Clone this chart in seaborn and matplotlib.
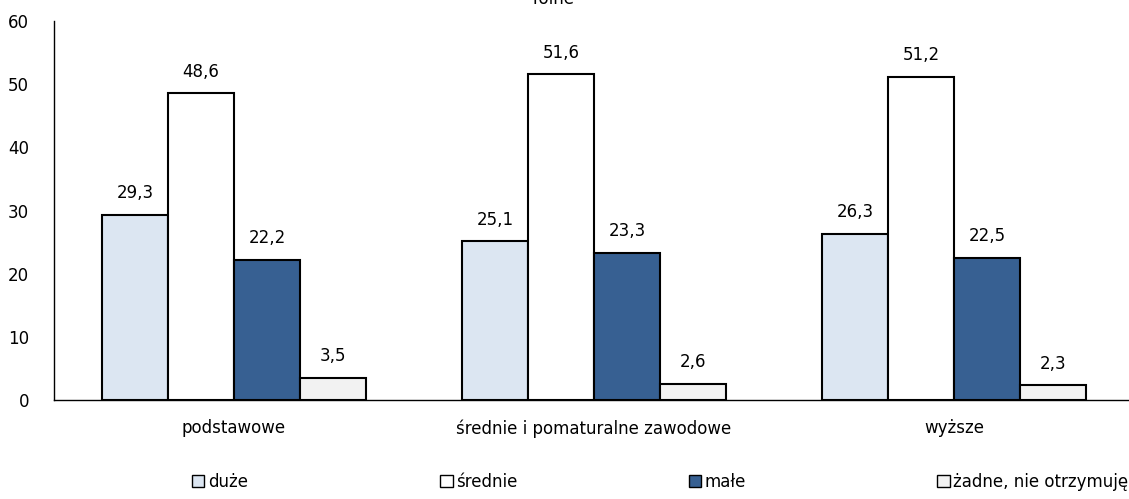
import pandas as pd
import numpy as np
import matplotlib
matplotlib.use("Agg")
import matplotlib.pyplot as plt
import seaborn as sns
from matplotlib.patches import Patch

# dane
kategorie = ["podstawowe", "średnie i pomaturalne zawodowe", "wyższe"]
serie = ["duże", "średnie", "małe", "żadne, nie otrzymuję"]
duze = [29.3, 25.1, 26.3]
srednie = [48.6, 51.6, 51.2]
male = [22.2, 23.3, 22.5]
zadne = [3.5, 2.6, 2.3]

kolory = ["#DCE6F2", "#FFFFFF", "#376092", "#F2F2F2"]

df = pd.DataFrame({
    "kategoria": kategorie * 4,
    "seria": [s for s in serie for _ in kategorie],
    "wartosc": duze + srednie + male + zadne,
})

sns.set_style("white")
plt.rcParams["font.family"] = ["DejaVu Sans"]
plt.rcParams["text.color"] = "black"
plt.rcParams["xtick.color"] = "black"
plt.rcParams["ytick.color"] = "black"

fig = plt.figure(figsize=(11.29, 4.99), dpi=100)
ax = fig.add_axes([54 / 1129, 1 - 400 / 499, 1080 / 1129, 379 / 499])

sns.barplot(data=df, x="kategoria", y="wartosc", hue="seria",
            hue_order=serie, order=kategorie, palette=kolory,
            width=0.733, edgecolor="black", linewidth=1.5,
            legend=False, ax=ax, saturation=1)

for cont in ax.containers:
    ax.bar_label(cont, labels=[f"{v:.1f}".replace(".", ",") for v in cont.datavalues],
                 padding=9, fontsize=12, color="black")

ax.set_ylim(0, 60)
ax.set_xlim(-0.5, 2.5)
ax.set_yticks(range(0, 61, 10))
ax.tick_params(axis="both", length=0, labelsize=12)
ax.tick_params(axis="y", pad=18)
ax.tick_params(axis="x", pad=14)
ax.set_xlabel("")
ax.set_ylabel("")
for s in ["top", "right"]:
    ax.spines[s].set_visible(False)
for s in ["left", "bottom"]:
    ax.spines[s].set_color("black")
    ax.spines[s].set_linewidth(1)

fig.text(0.49, 1.002, "rolne", ha="center", va="center", fontsize=12)

# legenda - osobno kazdy wpis
pozycje = [0.17, 0.39, 0.61, 0.83]
for nazwa, kol, xp in zip(serie, kolory, pozycje):
    fig.legend(handles=[Patch(facecolor=kol, edgecolor="black", linewidth=1)],
               labels=[nazwa], loc="center left", bbox_to_anchor=(xp, 0.035),
               frameon=False, fontsize=12, handlelength=0.75, handleheight=0.75,
               handletextpad=0.2, borderpad=0, borderaxespad=0)

plt.savefig("out.png", dpi=100)
